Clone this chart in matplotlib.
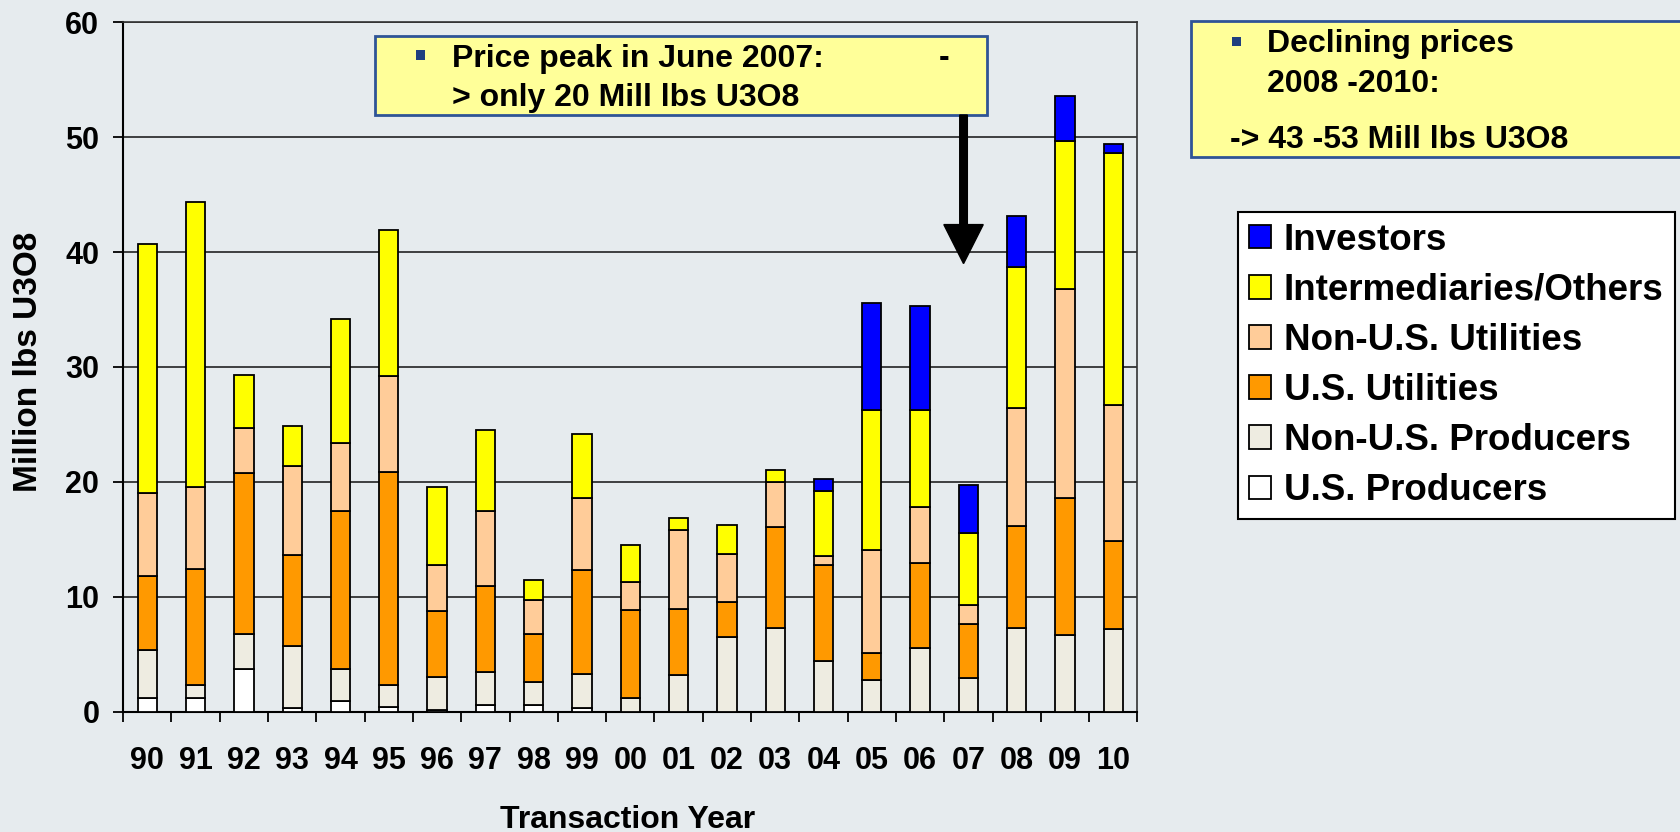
import matplotlib
matplotlib.use("Agg")
import matplotlib.pyplot as plt
from matplotlib.patches import Rectangle, FancyArrow, Patch
from matplotlib.transforms import IdentityTransform
import numpy as np

plt.rcParams['font.family'] = ['Liberation Sans', 'DejaVu Sans']
plt.rcParams['font.weight'] = 'bold'

years = ["90", "91", "92", "93", "94", "95", "96", "97", "98", "99", "00",
         "01", "02", "03", "04", "05", "06", "07", "08", "09", "10"]

us_producers     = [1.2, 1.2, 3.75, 0.3, 0.95, 0.45, 0.15, 0.6, 0.6, 0.3, 0.0,
                    0.0, 0.0, 0.0, 0.0, 0.0, 0.0, 0.0, 0.0, 0.0, 0.0]
non_us_producers = [4.2, 1.15, 3.05, 5.4, 2.8, 1.9, 2.9, 2.85, 2.0, 3.0, 1.2,
                    3.2, 6.5, 7.3, 4.4, 2.75, 5.55, 2.9, 7.3, 6.65, 7.2]
us_utilities     = [6.4, 10.1, 14.0, 7.9, 13.75, 18.5, 5.7, 7.5, 4.2, 9.0, 7.65,
                    5.7, 3.05, 8.8, 8.35, 2.4, 7.4, 4.7, 8.9, 11.95, 7.65]
non_us_utilities = [7.2, 7.1, 3.9, 7.8, 5.85, 8.35, 4.05, 6.55, 2.9, 6.3, 2.45,
                    6.95, 4.2, 3.9, 0.8, 8.9, 4.85, 1.65, 10.25, 18.15, 11.8]
intermediaries   = [21.7, 24.8, 4.6, 3.5, 10.8, 12.75, 6.75, 7.05, 1.8, 5.55, 3.2,
                    1.0, 2.5, 1.0, 5.7, 12.2, 8.45, 6.3, 12.25, 12.95, 21.95]
investors        = [0, 0, 0, 0, 0, 0, 0, 0, 0, 0, 0,
                    0, 0, 0, 1.0, 9.3, 9.05, 4.15, 4.45, 3.9, 0.85]

series_names = ["U.S. Producers", "Non-U.S. Producers", "U.S. Utilities",
                "Non-U.S. Utilities", "Intermediaries/Others", "Investors"]
series_vals = [us_producers, non_us_producers, us_utilities,
               non_us_utilities, intermediaries, investors]
series_colors = ["#FFFFFF", "#EEECE1", "#FF9900", "#FFCC99", "#FFFF00", "#0000FF"]

W, H = 1681, 832
BG = "#E6EBEE"
fig = plt.figure(figsize=(W / 100, H / 100), dpi=100, facecolor=BG)


def P(x, y):
    return (x / W, 1 - y / H)


ax = fig.add_axes([123.2 / W, 1 - 711.7 / H, (1137.4 - 123.2) / W, (711.7 - 22.3) / H])
ax.set_facecolor(BG)

x = np.arange(len(years))
bottom = np.zeros(len(years))
for name, vals, col in zip(series_names, series_vals, series_colors):
    v = np.array(vals, dtype=float)
    mask = v > 0
    ax.bar(x[mask], v[mask], width=0.4, bottom=bottom[mask], color=col,
           edgecolor="black", linewidth=1.3, zorder=3)
    bottom += v

ax.set_xlim(-0.5, len(years) - 0.5)
ax.set_ylim(0, 60)
ax.set_yticks(np.arange(0, 61, 10))
ax.yaxis.grid(True, color="#222222", linewidth=1.2, zorder=1)
ax.set_axisbelow(True)
ax.set_xticks(x)
ax.set_xticklabels(years)
ax.set_xticks(np.arange(-0.5, len(years), 1.0), minor=True)
ax.tick_params(axis="x", which="major", length=0, pad=25, labelsize=22)
ax.tick_params(axis="x", which="minor", length=7.2, width=1.3, direction="out")
ax.tick_params(axis="y", which="major", length=7.2, width=1.3, pad=10, labelsize=22)
for s in ["left", "bottom"]:
    ax.spines[s].set_linewidth(1.5)
    ax.spines[s].set_color("black")
for s in ["top", "right"]:
    ax.spines[s].set_linewidth(1.2)
    ax.spines[s].set_color("#333333")

fig.text(*P(628, 828), "Transaction Year", ha="center", va="baseline",
         fontsize=23, fontweight="bold")
fig.text(*P(28.5, 362), "Million lbs U3O8", ha="center", va="center",
         rotation=90, fontsize=24, fontweight="bold")

BOXFILL = "#FFFF99"
BOXEDGE = "#2F5496"
BULLET = "#1F3F7F"
BFS = 23

# Box 1
x0, y0, x1, y1 = 375, 36, 987, 115
fig.patches.append(Rectangle(P(x0, y1), (x1 - x0) / W, (y1 - y0) / H,
                             transform=fig.transFigure, facecolor=BOXFILL,
                             edgecolor=BOXEDGE, linewidth=2, zorder=5))
fig.patches.append(Rectangle(P(416, 59.5), 9 / W, 9 / H, transform=fig.transFigure,
                             facecolor=BULLET, edgecolor="none", zorder=6))
fig.text(*P(451.6, 66.5), "Price peak in June 2007:", ha="left", va="baseline",
         fontsize=BFS, fontweight="bold", zorder=7)
fig.text(*P(943.8, 66.5), "-", ha="center", va="baseline",
         fontsize=BFS, fontweight="bold", zorder=7)
fig.text(*P(451.6, 106), "> only 20 Mill lbs U3O8", ha="left", va="baseline",
         fontsize=BFS, fontweight="bold", zorder=7)

# Box 2
x0, y0, x1, y1 = 1191, 21, 1700, 157
fig.patches.append(Rectangle(P(x0, y1), (x1 - x0) / W, (y1 - y0) / H,
                             transform=fig.transFigure, facecolor=BOXFILL,
                             edgecolor=BOXEDGE, linewidth=2, zorder=5))
fig.patches.append(Rectangle(P(1231.7, 45.7), 9 / W, 9 / H, transform=fig.transFigure,
                             facecolor=BULLET, edgecolor="none", zorder=6))
fig.text(*P(1267.3, 51.7), "Declining prices", ha="left", va="baseline",
         fontsize=BFS, fontweight="bold", zorder=7)
fig.text(*P(1267.3, 91.7), "2008 -2010:", ha="left", va="baseline",
         fontsize=BFS, fontweight="bold", zorder=7)
fig.text(*P(1230, 148.3), "-> 43 -53 Mill lbs U3O8", ha="left", va="baseline",
         fontsize=BFS, fontweight="bold", zorder=7)

# Arrow from box 1 to year 07
tip = ax.transData.transform((16.9, 39.0))
start_y = H - 115
fig.patches.append(FancyArrow(tip[0], start_y, 0, tip[1] - start_y, width=7.6,
                              head_width=39.4, head_length=39,
                              length_includes_head=True, transform=IdentityTransform(),
                              facecolor="black", edgecolor="black", zorder=8))

# Legend
handles = [Patch(facecolor=c, edgecolor="black", linewidth=1.3)
           for c in series_colors[::-1]]
labels = series_names[::-1]
LFS = 26.5
leg = fig.legend(handles, labels, loc="upper left", bbox_to_anchor=P(1238.2, 211.7),
                 bbox_transform=fig.transFigure, frameon=True,
                 fancybox=False, borderaxespad=0, borderpad=0.3,
                 handlelength=0.6, handleheight=0.6, handletextpad=0.34,
                 labelspacing=0.41, prop={"weight": "bold", "size": LFS})
leg.get_frame().set_edgecolor("black")
leg.get_frame().set_linewidth(1.5)
leg.get_frame().set_facecolor("white")
leg.get_frame().set_alpha(1)

fig.savefig("out.png", dpi=100, facecolor=BG)
